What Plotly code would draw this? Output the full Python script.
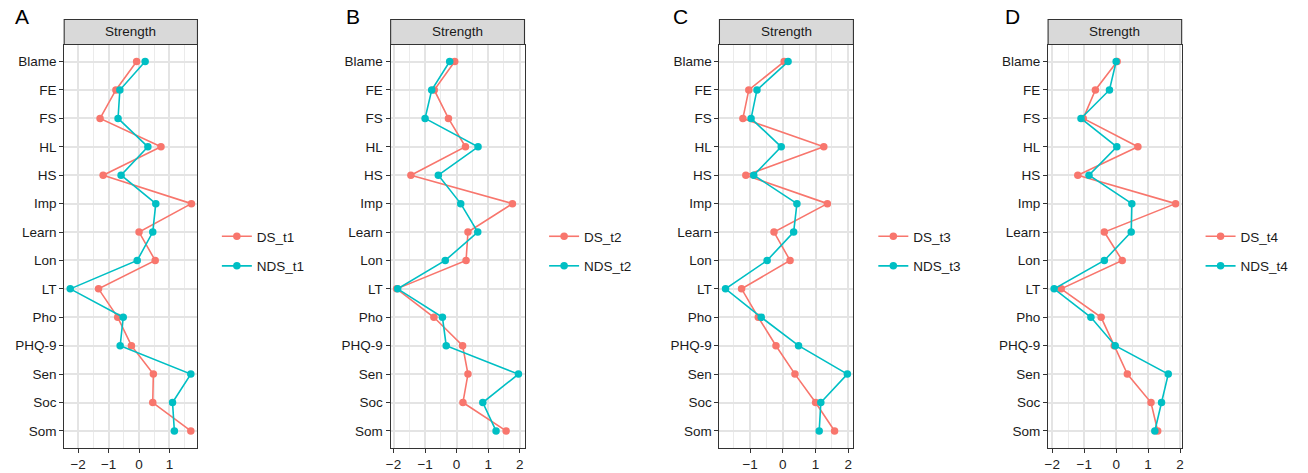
import plotly.graph_objects as go

W, H = 1308, 473

categories = ["Blame", "FE", "FS", "HL", "HS", "Imp", "Learn", "Lon", "LT",
              "Pho", "PHQ-9", "Sen", "Soc", "Som"]

ds_t1 = [-0.08, -0.76, -1.28, 0.72, -1.18, 1.72, 0.00, 0.53, -1.33, -0.70, -0.25, 0.47, 0.45, 1.70]
nds_t1 = [0.20, -0.63, -0.69, 0.29, -0.59, 0.55, 0.45, -0.06, -2.26, -0.52, -0.62, 1.70, 1.10, 1.16]
ds_t2 = [-0.06, -0.71, -0.26, 0.28, -1.45, 1.77, 0.36, 0.30, -1.90, -0.72, 0.19, 0.36, 0.20, 1.57]
nds_t2 = [-0.22, -0.79, -1.00, 0.68, -0.58, 0.13, 0.67, -0.36, -1.87, -0.45, -0.33, 1.96, 0.83, 1.25]
ds_t3 = [0.04, -1.04, -1.22, 1.25, -1.13, 1.36, -0.27, 0.22, -1.26, -0.75, -0.21, 0.37, 1.00, 1.58]
nds_t3 = [0.16, -0.79, -0.97, -0.05, -0.89, 0.43, 0.33, -0.48, -1.75, -0.66, 0.48, 1.97, 1.16, 1.11]
ds_t4 = [0.03, -0.65, -1.03, 0.68, -1.20, 1.86, -0.37, 0.19, -1.72, -0.47, -0.06, 0.35, 1.09, 1.30]
nds_t4 = [0.00, -0.21, -1.10, 0.02, -0.85, 0.49, 0.47, -0.37, -1.94, -0.79, -0.03, 1.63, 1.42, 1.21]

panel_letters = ["A", "B", "C", "D"]
series_names = [("DS_t1", "NDS_t1"), ("DS_t2", "NDS_t2"), ("DS_t3", "NDS_t3"), ("DS_t4", "NDS_t4")]
series_values = [(ds_t1, nds_t1), (ds_t2, nds_t2), (ds_t3, nds_t3), (ds_t4, nds_t4)]
strip_title = "Strength"

RED = "#F8766D"
TEAL = "#00BFC4"
FONT = "Liberation Sans, Arial, sans-serif"
FS = 13.5

# layout in window pixels
panel_x = [(59.5, 193.5), (387.7, 522.3), (718.3, 853.0), (1048.7, 1183.0)]
plot_top, plot_bot = 44.5, 448.0
strip_top = 19.5
legend_left = [213, 542, 873, 1202]
letter_x = [17.5, 349.5, 678.7, 1013]
letter_y = 16.7
legend_mid = 251.5

def px(x):
    return x / W

def py(y):
    return 1 - y / H

fig = go.Figure()
layout = dict(
    width=W, height=H,
    margin=dict(l=0, r=0, t=0, b=0),
    paper_bgcolor="white", plot_bgcolor="white",
    font=dict(family=FONT, size=FS, color="#1a1a1a"),
    showlegend=True,
)
shapes = []
annotations = []

for i in range(4):
    n = "" if i == 0 else str(i + 1)
    xa, ya = "x" + n, "y" + n
    leg = "legend" if i == 0 else "legend" + str(i + 1)
    ds, nds = series_values[i]
    allv = ds + nds
    lo, hi = min(allv), max(allv)
    pad = 0.05 * (hi - lo)
    for name, vals, col in [(series_names[i][0], ds, RED), (series_names[i][1], nds, TEAL)]:
        fig.add_trace(go.Scatter(
            x=vals, y=categories, mode="lines+markers", name=name,
            line=dict(color=col, width=1.6),
            marker=dict(color=col, size=7.5),
            xaxis=xa, yaxis=ya, legend=leg, legendgroup=name,
        ))
    layout["xaxis" + n] = dict(
        domain=[px(panel_x[i][0]), px(panel_x[i][1])], anchor=ya,
        range=[lo - pad, hi + pad], dtick=1, tick0=0,
        showgrid=True, gridcolor="#E4E4E4", gridwidth=1.6,
        minor=dict(dtick=0.5, tick0=0, showgrid=True, gridcolor="#EBEBEB", gridwidth=1.1),
        zeroline=False, showline=True, mirror=True, linecolor="#333333", linewidth=1.1,
        ticks="outside", ticklen=4, tickcolor="#333333", tickwidth=1.2,
        tickfont=dict(family=FONT, size=FS, color="#222222"),
    )
    layout["yaxis" + n] = dict(
        domain=[py(plot_bot), py(plot_top)], anchor=xa,
        type="category", categoryorder="array", categoryarray=categories,
        range=[len(categories) - 0.4, -0.6],
        showgrid=True, gridcolor="#E4E4E4", gridwidth=1.6,
        zeroline=False, showline=True, mirror=True, linecolor="#333333", linewidth=1.1,
        ticks="outside", ticklen=4, tickcolor="#333333", tickwidth=1.2,
        tickfont=dict(family=FONT, size=FS, color="#1a1a1a"),
    )
    layout[leg] = dict(
        x=px(legend_left[i]), xanchor="left",
        y=py(legend_mid), yanchor="middle",
        bgcolor="rgba(0,0,0,0)", borderwidth=0,
        font=dict(family=FONT, size=FS, color="#1a1a1a"),
        traceorder="grouped", tracegroupgap=9,
        itemwidth=30,
    )
    shapes.append(dict(
        type="rect", xref="paper", yref="paper",
        x0=px(panel_x[i][0]), x1=px(panel_x[i][1]),
        y0=py(plot_top), y1=py(strip_top),
        fillcolor="#D9D9D9", line=dict(color="#333333", width=1.1), layer="above",
    ))
    annotations.append(dict(
        text=strip_title, xref="paper", yref="paper",
        x=px((panel_x[i][0] + panel_x[i][1]) / 2), y=py((plot_top + strip_top) / 2),
        xanchor="center", yanchor="middle", showarrow=False,
        font=dict(family=FONT, size=FS, color="#1a1a1a"),
    ))
    annotations.append(dict(
        text=panel_letters[i], xref="paper", yref="paper",
        x=px(letter_x[i]), y=py(letter_y), xanchor="center", yanchor="middle",
        showarrow=False, font=dict(family=FONT, size=21, color="black"),
    ))

layout["shapes"] = shapes
layout["annotations"] = annotations
fig.update_layout(**layout)
fig.write_html(
    "out.html",
    config={"displayModeBar": False},
    post_script="document.body.style.margin='0px';document.body.style.overflow='hidden';",
)
